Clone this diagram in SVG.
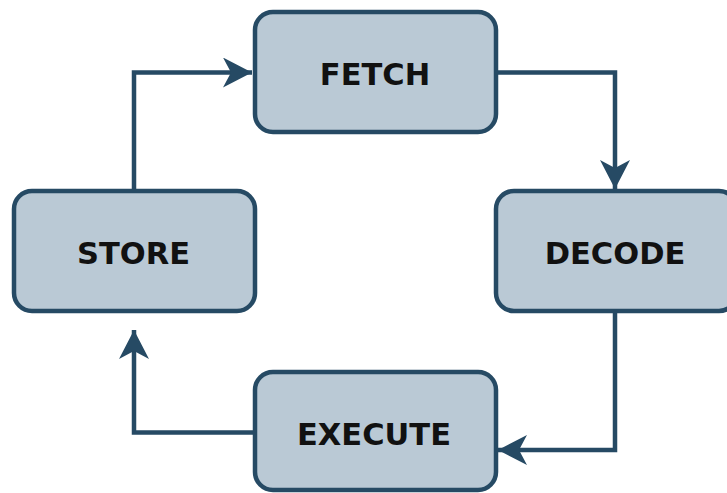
<svg xmlns="http://www.w3.org/2000/svg" width="727" height="493" viewBox="0 0 727 493">
<style>
.box{fill:#bac9d5;stroke:#264a64;stroke-width:4.5}
.lbl{font-family:"DejaVu Sans",Verdana,sans-serif;font-weight:bold;font-size:30.5px;fill:#111;text-anchor:middle}
.edge{fill:none;stroke:#264a64;stroke-width:4.5;marker-end:url(#ah)}
</style>
<defs>
<marker id="ah" markerUnits="userSpaceOnUse" markerWidth="32" markerHeight="32" refX="29" refY="15" orient="auto">
<path d="M0,0 L29,15 L0,30 L8,15 z" fill="#264a64"/>
</marker>
</defs>
<g id="connectors">
<path class="edge" d="M134,191 V72.5 H252"/>
<path class="edge" d="M496,72.5 H615 V189"/>
<path class="edge" d="M615,313 V450 H498"/>
<path class="edge" d="M255,432.5 H134 V330"/>
</g>
<g id="fetch"><rect class="box" x="255" y="12" width="241" height="120" rx="18"/><text class="lbl" x="375" y="85">FETCH</text></g>
<g id="store"><rect class="box" x="14" y="191" width="241" height="120" rx="18"/><text class="lbl" x="133.5" y="264">STORE</text></g>
<g id="decode"><rect class="box" x="496" y="191" width="241" height="120" rx="18"/><text class="lbl" x="615" y="264">DECODE</text></g>
<g id="execute"><rect class="box" x="255" y="372" width="241" height="118" rx="18"/><text class="lbl" x="374" y="445">EXECUTE</text></g>
</svg>
